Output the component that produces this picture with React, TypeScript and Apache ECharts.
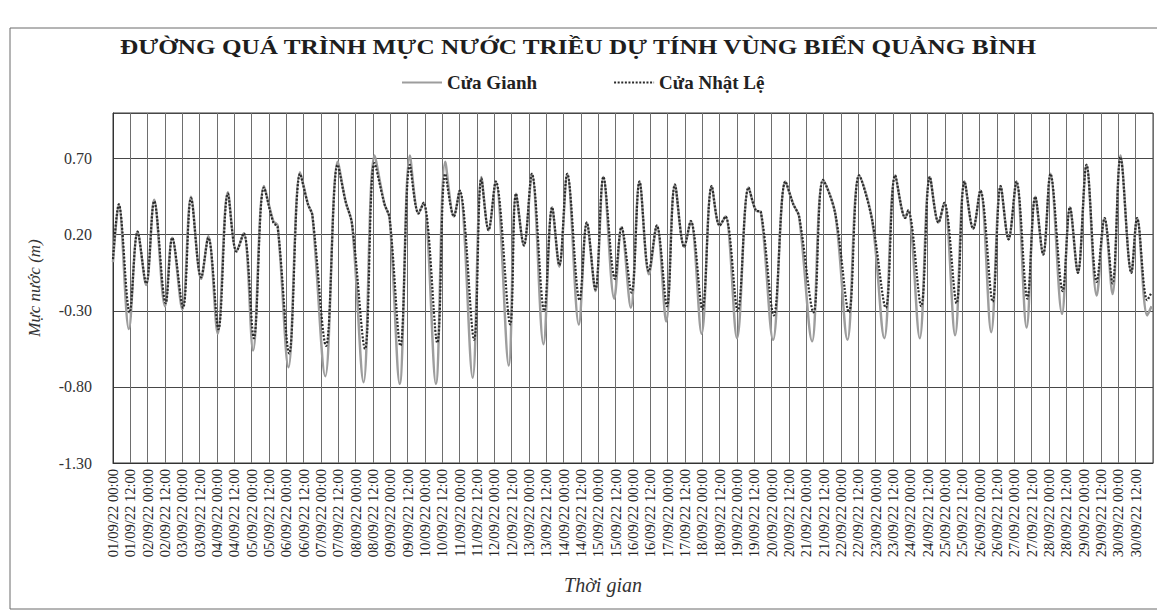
import React, { useEffect, useRef } from "react";
import * as echarts from "echarts";

const chartTitle = "ĐƯỜNG QUÁ TRÌNH MỰC NƯỚC TRIỀU DỰ TÍNH VÙNG BIỂN QUẢNG BÌNH";
const seriesNames = ["Cửa Gianh", "Cửa Nhật Lệ"];
const yTitle = "Mực nước (m)";
const xTitle = "Thời gian";

const xTickLabels = [
  "01/09/22 00:00", "01/09/22 12:00", "02/09/22 00:00", "02/09/22 12:00",
  "03/09/22 00:00", "03/09/22 12:00", "04/09/22 00:00", "04/09/22 12:00",
  "05/09/22 00:00", "05/09/22 12:00", "06/09/22 00:00", "06/09/22 12:00",
  "07/09/22 00:00", "07/09/22 12:00", "08/09/22 00:00", "08/09/22 12:00",
  "09/09/22 00:00", "09/09/22 12:00", "10/09/22 00:00", "10/09/22 12:00",
  "11/09/22 00:00", "11/09/22 12:00", "12/09/22 00:00", "12/09/22 12:00",
  "13/09/22 00:00", "13/09/22 12:00", "14/09/22 00:00", "14/09/22 12:00",
  "15/09/22 00:00", "15/09/22 12:00", "16/09/22 00:00", "16/09/22 12:00",
  "17/09/22 00:00", "17/09/22 12:00", "18/09/22 00:00", "18/09/22 12:00",
  "19/09/22 00:00", "19/09/22 12:00", "20/09/22 00:00", "20/09/22 12:00",
  "21/09/22 00:00", "21/09/22 12:00", "22/09/22 00:00", "22/09/22 12:00",
  "23/09/22 00:00", "23/09/22 12:00", "24/09/22 00:00", "24/09/22 12:00",
  "25/09/22 00:00", "25/09/22 12:00", "26/09/22 00:00", "26/09/22 12:00",
  "27/09/22 00:00", "27/09/22 12:00", "28/09/22 00:00", "28/09/22 12:00",
  "29/09/22 00:00", "29/09/22 12:00", "30/09/22 00:00", "30/09/22 12:00",
];

// [hour since 01/09/22 00:00, water level (m)] — highs, lows and stands
const cuaGianh: [number, number][] = [
  [0, 0.02], [4, 0.40], [11, -0.42], [17, 0.22], [23, -0.13], [28.5, 0.43],
  [36, -0.27], [41, 0.18], [48, -0.29], [54, 0.45], [61, -0.09], [66, 0.19],
  [72.5, -0.45], [79.5, 0.48], [85.5, 0.09], [90.5, 0.21], [97, -0.56], [104.5, 0.52],
  [111, 0.29], [114, 0.26], [121.5, -0.67], [129.5, 0.61], [135, 0.40], [138, 0.33],
  [147, -0.73], [155.5, 0.68], [161, 0.42], [165.5, 0.27], [173.5, -0.77], [181, 0.72],
  [188, 0.40], [191.5, 0.31], [198.5, -0.78], [205.5, 0.72], [211.5, 0.34], [215, 0.41],
  [223.5, -0.78], [230, 0.68], [236, 0.32], [240, 0.49], [249, -0.74], [255, 0.58],
  [260, 0.23], [265, 0.55], [274, -0.66], [279, 0.47], [284.5, 0.13], [290, 0.60],
  [298, -0.52], [304, 0.38], [309, -0.01], [314.5, 0.60], [322.5, -0.39], [328, 0.28],
  [334, -0.17], [339.5, 0.58], [347, -0.22], [352, 0.25], [358.5, -0.28], [364.5, 0.55],
  [371, -0.06], [376.5, 0.26], [383, -0.37], [389, 0.53], [395.5, 0.12], [400, 0.29],
  [407.5, -0.45], [414.5, 0.52], [420, 0.26], [424, 0.32], [432, -0.48], [440, 0.51],
  [445, 0.36], [448.5, 0.35], [457, -0.49], [465.5, 0.55], [471, 0.40], [475, 0.32],
  [484, -0.50], [491.5, 0.56], [500, 0.34], [508.5, -0.49], [516.5, 0.59], [525.5, 0.30],
  [534, -0.48], [541.5, 0.59], [548.5, 0.31], [550.5, 0.36], [558.5, -0.48], [565.5, 0.58],
  [571.5, 0.28], [575.5, 0.41], [583, -0.46], [589.5, 0.55], [595.5, 0.24], [600.5, 0.49],
  [608, -0.44], [614.5, 0.52], [620, 0.17], [625.5, 0.55], [632.5, -0.41], [638.5, 0.45],
  [644, 0.07], [649, 0.60], [657, -0.32], [662.5, 0.38], [668, -0.05], [674, 0.66],
  [681, -0.20], [686.5, 0.31], [692, -0.19], [697.5, 0.72], [705, -0.05], [709, 0.31],
  [716, -0.33], [719, -0.27],
];

const cuaNhatLe: [number, number][] = [
  [0, 0.04], [4, 0.40], [11.5, -0.31], [17, 0.22], [23, -0.12], [28.5, 0.42],
  [36.5, -0.25], [41, 0.18], [48.5, -0.28], [54, 0.44], [61, -0.08], [66, 0.18],
  [73, -0.42], [79.5, 0.47], [85.5, 0.09], [90.5, 0.21], [97.5, -0.48], [104.5, 0.51],
  [111, 0.28], [114, 0.25], [122, -0.58], [129.5, 0.60], [135, 0.40], [138, 0.33],
  [147.5, -0.53], [155.5, 0.66], [161, 0.42], [165.5, 0.27], [174.5, -0.55], [181, 0.67],
  [188, 0.40], [191.5, 0.31], [199, -0.53], [205.5, 0.66], [211.5, 0.34], [215, 0.41],
  [224.5, -0.51], [230, 0.60], [236, 0.32], [240, 0.49], [250, -0.49], [255, 0.57],
  [260, 0.23], [265, 0.55], [275, -0.39], [279, 0.47], [284.5, 0.13], [290, 0.60],
  [298.5, -0.30], [304, 0.38], [309, 0.00], [314.5, 0.60], [323, -0.23], [328, 0.28],
  [334, -0.16], [339.5, 0.58], [347.5, -0.09], [352, 0.25], [359, -0.18], [364.5, 0.55],
  [371, -0.04], [376.5, 0.26], [383.5, -0.27], [389, 0.53], [395.5, 0.12], [400, 0.29],
  [408, -0.29], [414.5, 0.52], [420, 0.26], [424, 0.32], [432.5, -0.30], [440, 0.51],
  [445, 0.36], [448.5, 0.35], [457.5, -0.33], [465.5, 0.55], [471, 0.40], [475, 0.32],
  [485, -0.31], [491.5, 0.56], [500, 0.34], [509.5, -0.31], [516.5, 0.59], [525.5, 0.30],
  [535, -0.28], [541.5, 0.59], [548.5, 0.31], [550.5, 0.36], [559.5, -0.27], [565.5, 0.58],
  [571.5, 0.28], [575.5, 0.41], [584, -0.25], [589.5, 0.55], [595.5, 0.24], [600.5, 0.49],
  [609, -0.24], [614.5, 0.52], [620, 0.17], [625.5, 0.55], [633, -0.22], [638.5, 0.45],
  [644, 0.07], [649, 0.60], [657.5, -0.17], [662.5, 0.38], [668, -0.05], [674, 0.66],
  [681, -0.11], [686.5, 0.31], [692, -0.12], [697.5, 0.71], [705, -0.05], [709, 0.31],
  [716, -0.23], [719, -0.18],
];

const SERIF = '"Liberation Serif", "Times New Roman", serif';

export default function App() {
  const ref = useRef<HTMLDivElement>(null);

  useEffect(() => {
    if (!ref.current) return;
    const chart = echarts.init(ref.current, null, { renderer: "svg" });
    chart.setOption({
      animation: false,
      backgroundColor: "#ffffff",
      textStyle: { fontFamily: SERIF },
      graphic: [
        {
          type: "rect",
          silent: true,
          z: -10,
          shape: { x: 10, y: 28, width: 1152, height: 581 },
          style: { fill: "none", stroke: "#6a6a6a", lineWidth: 1 },
        },
        {
          type: "text",
          x: 578,
          y: 47,
          scaleX: 1.2,
          style: {
            text: chartTitle,
            font: `bold 21px ${SERIF}`,
            fill: "#1e1e1e",
            align: "center",
            verticalAlign: "middle",
          },
        },
      ],
      legend: {
        left: 401,
        top: 73,
        padding: 0,
        itemWidth: 40,
        itemHeight: 10,
        itemGap: 76,
        itemStyle: { opacity: 0 },
        textStyle: { fontFamily: SERIF, fontWeight: "bold", fontSize: 19, color: "#222" },
        data: seriesNames,
      },
      grid: {
        left: 113,
        right: 4,
        top: 113,
        bottom: 150,
        show: true,
        borderColor: "#3a3a3a",
        borderWidth: 1,
        backgroundColor: "transparent",
      },
      xAxis: {
        type: "value",
        min: 0,
        max: 720,
        interval: 12,
        axisLine: { show: true, onZero: false, lineStyle: { color: "#333", width: 1 } },
        axisTick: { show: false },
        axisLabel: {
          rotate: 90,
          fontSize: 14.5,
          fontFamily: SERIF,
          color: "#222",
          margin: 6,
          showMaxLabel: false,
          formatter: (v: number) => xTickLabels[Math.round(v / 12)] ?? "",
        },
        splitLine: { show: true, lineStyle: { color: "#6e6e6e", width: 1 } },
        name: xTitle,
        nameLocation: "middle",
        nameGap: 112,
        nameTextStyle: {
          fontFamily: SERIF,
          fontStyle: "italic",
          fontSize: 20,
          color: "#333",
          padding: [0, 60, 0, 0],
        },
      },
      yAxis: {
        type: "value",
        min: -1.3,
        max: 1.0,
        interval: 0.5,
        axisLine: { show: true, lineStyle: { color: "#333", width: 1 } },
        axisTick: { show: false },
        axisLabel: {
          fontSize: 16,
          fontFamily: SERIF,
          color: "#333",
          margin: 21,
          showMaxLabel: false,
          formatter: (v: number) => v.toFixed(2),
        },
        splitLine: { show: true, lineStyle: { color: "#474747", width: 1 } },
        name: yTitle,
        nameLocation: "middle",
        nameRotate: 90,
        nameGap: 70,
        nameTextStyle: { fontFamily: SERIF, fontStyle: "italic", fontSize: 17, color: "#333" },
      },
      series: [
        {
          name: seriesNames[0],
          type: "line",
          data: cuaGianh,
          symbol: "none",
          showSymbol: false,
          smooth: 0.35,
          itemStyle: { color: "#9d9d9d" },
          lineStyle: { color: "#9d9d9d", width: 2.5 },
          z: 2,
        },
        {
          name: seriesNames[1],
          type: "line",
          data: cuaNhatLe,
          symbol: "none",
          showSymbol: false,
          smooth: 0.35,
          itemStyle: { color: "#2a2a2a" },
          lineStyle: { color: "#2a2a2a", width: 2.2, type: [2, 1.6] },
          z: 3,
        },
      ],
    });
    return () => chart.dispose();
  }, []);

  return (
    <div
      ref={ref}
      style={{ position: "absolute", left: 0, top: 0, width: 1157, height: 613, background: "#fff" }}
    />
  );
}
